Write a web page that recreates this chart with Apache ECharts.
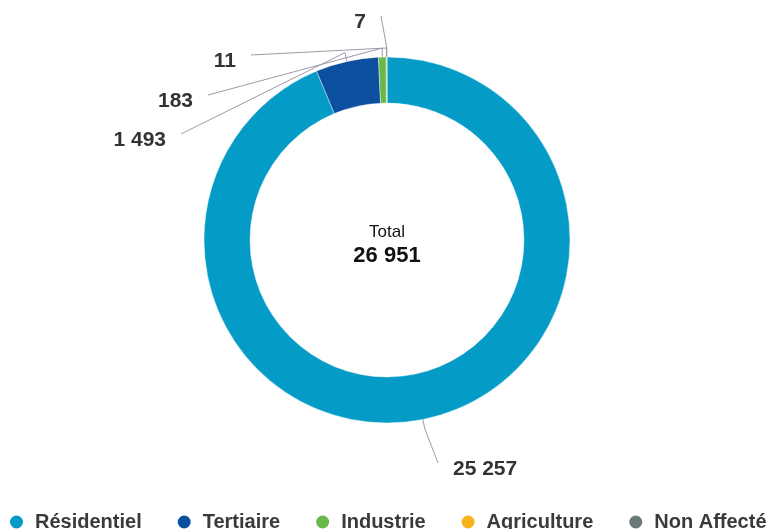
<!DOCTYPE html>
<html lang="fr">
<head>
<meta charset="utf-8">
<title>Répartition par secteur</title>
<script src="https://cdn.jsdelivr.net/npm/echarts@6/dist/echarts.min.js"></script>
<style>
  html, body { margin: 0; padding: 0; background: #ffffff; }
  #chart { width: 771px; height: 529px; }
</style>
</head>
<body>
<div id="chart"></div>
<script>
// Secteurs et valeurs
const sectors = ['Résidentiel', 'Tertiaire', 'Industrie', 'Agriculture', 'Non Affecté'];
const values = [25257, 1493, 183, 11, 7];
const sectorColors = ['#049cc7', '#0b509e', '#6ab84a', '#f7b21c', '#6a7a78'];

// Emplacement des étiquettes : [x, y, alignement]
const labelSpots = [
  [453, 469, 'left'],
  [166, 140, 'right'],
  [193, 101, 'right'],
  [236, 61, 'right'],
  [366, 22, 'right']
];

const FONT = '"Liberation Sans", Arial, Helvetica, sans-serif';
const CENTER = [387, 240];

function formatNumber(n) {
  return String(n).replace(/\B(?=(\d{3})+(?!\d))/g, ' ');
}

const total = values.reduce((a, b) => a + b, 0);

const chart = echarts.init(document.getElementById('chart'), null, { renderer: 'canvas' });

chart.setOption({
  animation: false,
  color: sectorColors,
  legend: {
    data: sectors,
    left: 3,
    top: 507,
    width: 1000,
    padding: 5,
    icon: 'circle',
    itemWidth: 15,
    itemHeight: 15,
    itemGap: 34,
    textStyle: {
      fontFamily: FONT,
      fontSize: 20,
      fontWeight: 'bold',
      color: '#3a3a3a',
      padding: [0, 0, 0, 6]
    }
  },
  graphic: [
    {
      type: 'text',
      x: CENTER[0],
      y: 232,
      style: {
        text: 'Total',
        fontFamily: FONT,
        fontSize: 17,
        fill: '#111111',
        textAlign: 'center',
        textVerticalAlign: 'middle'
      }
    },
    {
      type: 'text',
      x: CENTER[0],
      y: 256,
      style: {
        text: formatNumber(total),
        fontFamily: FONT,
        fontSize: 22,
        fontWeight: 'bold',
        fill: '#111111',
        textAlign: 'center',
        textVerticalAlign: 'middle'
      }
    }
  ],
  series: [
    {
      type: 'pie',
      center: CENTER,
      radius: [137, 183],
      startAngle: 90,
      clockwise: true,
      avoidLabelOverlap: false,
      minShowLabelAngle: 0,
      itemStyle: { borderColor: '#ffffff', borderWidth: 0.4 },
      label: {
        show: true,
        position: 'outside',
        formatter: (p) => formatNumber(p.value),
        fontFamily: FONT,
        fontSize: 21,
        fontWeight: 'bold',
        color: '#333333'
      },
      labelLine: {
        show: true,
        length: 9,
        length2: 10,
        lineStyle: { color: '#9c9aab', width: 1 }
      },
      labelLayout: function (params) {
        const spot = labelSpots[params.dataIndex];
        const pts = params.labelLinePoints;
        const endX = spot[2] === 'left' ? spot[0] - 15 : spot[0] + 15;
        const endY = spot[1] - 6;
        const out = {
          x: spot[0],
          y: spot[1],
          align: spot[2],
          verticalAlign: 'middle'
        };
        if (pts) {
          out.labelLinePoints = [pts[0], pts[1], [endX, endY]];
        }
        return out;
      },
      emphasis: { disabled: true },
      data: sectors.map((name, i) => ({ name: name, value: values[i] }))
    }
  ]
});
</script>
</body>
</html>
